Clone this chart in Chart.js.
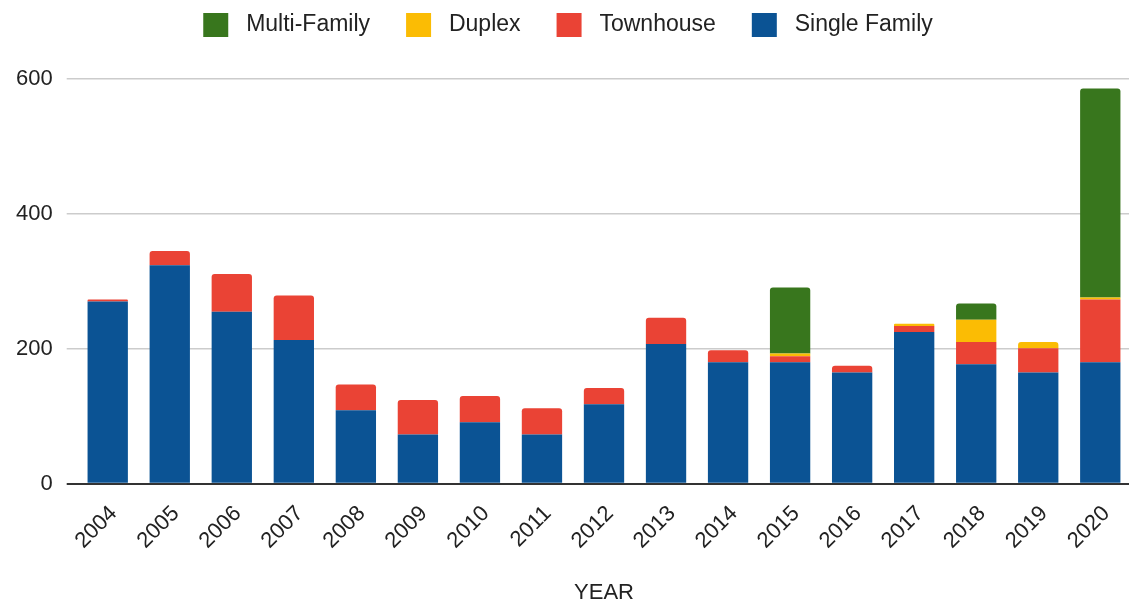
<!DOCTYPE html>
<html>
<head>
<meta charset="utf-8">
<script src="https://cdn.jsdelivr.net/npm/chart.js@4"></script>
<style>
  body { margin: 0; background: #fff; }
  #wrap { width: 1129px; height: 604px; overflow: hidden; }
</style>
</head>
<body>
<div id="wrap"><canvas id="housingChart" width="1136" height="604"></canvas></div>
<script>
// Units permitted per year, by housing type
const years = ['2004', '2005', '2006', '2007', '2008', '2009', '2010', '2011', '2012',
               '2013', '2014', '2015', '2016', '2017', '2018', '2019', '2020'];
const singleFamily = [270, 324, 255, 213, 109, 73, 91, 73, 118, 207, 180, 180, 165, 225, 177, 165, 180];
const townhouse    = [3, 21, 56, 66, 38, 51, 39, 39, 24, 39, 18, 9, 10, 9, 33, 36, 93];
const duplex       = [0, 0, 0, 0, 0, 0, 0, 0, 0, 0, 0, 4, 0, 3, 33, 9, 3];
const multiFamily  = [0, 0, 0, 0, 0, 0, 0, 0, 0, 0, 0, 98, 0, 0, 24, 0, 310];
const yTicks = [0, 200, 400, 600];

const stackOrder = [singleFamily, townhouse, duplex, multiFamily];
const fontFamily = '"Liberation Sans", Arial, sans-serif';

// only the top segment of each stack gets rounded corners
function topRadius(ctx) {
    const i = ctx.dataIndex;
    const d = ctx.datasetIndex;
    for (let k = d + 1; k < stackOrder.length; k++) {
        if (stackOrder[k][i] > 0) return 0;
    }
    return { topLeft: 3, topRight: 3, bottomLeft: 0, bottomRight: 0 };
}

// extra room between the legend and the plot
const legendGap = {
    id: 'legendGap',
    beforeInit(chart) {
        const fit = chart.legend.fit;
        chart.legend.fit = function () {
            fit.bind(chart.legend)();
            this.height += 32;
        };
    }
};

document.addEventListener('DOMContentLoaded', function () {
    const ctx = document.getElementById('housingChart').getContext('2d');

    new Chart(ctx, {
        type: 'bar',
        data: {
            labels: years,
            datasets: [{
                label: 'Single Family',
                data: singleFamily,
                backgroundColor: '#0b5394'
            },
            {
                label: 'Townhouse',
                data: townhouse,
                backgroundColor: '#ea4335'
            },
            {
                label: 'Duplex',
                data: duplex,
                backgroundColor: '#fbbc04'
            },
            {
                label: 'Multi-Family',
                data: multiFamily,
                backgroundColor: '#38761d'
            }]
        },
        plugins: [legendGap],
        options: {
            responsive: false,
            animation: false,
            layout: {
                padding: { left: 2, right: 2, top: 0, bottom: 0 }
            },
            datasets: {
                bar: {
                    categoryPercentage: 1,
                    barPercentage: 0.65,
                    borderRadius: topRadius,
                    borderSkipped: false
                }
            },
            plugins: {
                legend: {
                    position: 'top',
                    reverse: true,
                    labels: {
                        boxWidth: 25,
                        boxHeight: 24,
                        padding: 13,
                        color: '#222',
                        font: { family: fontFamily, size: 23 },
                        generateLabels: function (chart) {
                            const items = Chart.defaults.plugins.legend.labels.generateLabels(chart);
                            items.forEach(it => {
                                // a leading space widens the box/text gap, an em space widens the item gap
                                it.text = ' ' + it.text + (it.datasetIndex === 0 ? '' : '\u2003');
                                it.lineWidth = 0;
                            });
                            return items;
                        }
                    }
                },
                tooltip: { enabled: false }
            },
            scales: {
                x: {
                    stacked: true,
                    grid: { display: false, drawTicks: false },
                    border: { display: false },
                    ticks: {
                        autoSkip: false,
                        maxRotation: 45,
                        minRotation: 45,
                        padding: 17,
                        labelOffset: 6,
                        color: '#222',
                        font: { family: fontFamily, size: 22 }
                    },
                    title: {
                        display: true,
                        text: 'YEAR',
                        color: '#222',
                        padding: { top: 11, bottom: 0 },
                        font: { family: fontFamily, size: 22, lineHeight: 1 }
                    }
                },
                y: {
                    stacked: true,
                    min: 0,
                    max: 600,
                    afterBuildTicks: function (axis) {
                        axis.ticks = yTicks.map(v => ({ value: v }));
                    },
                    grid: {
                        tickLength: 10,
                        color: c => c.tick && c.tick.value === 0 ? '#333' : '#cccccc',
                        lineWidth: c => c.tick && c.tick.value === 0 ? 2 : 1.5
                    },
                    border: { display: false },
                    ticks: {
                        padding: 14,
                        color: '#222',
                        font: { family: fontFamily, size: 22 }
                    }
                }
            }
        }
    });
});
</script>
</body>
</html>
